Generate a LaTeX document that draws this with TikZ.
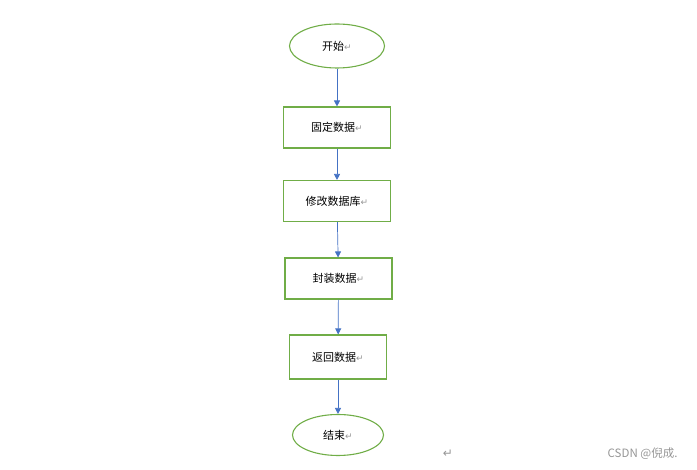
\documentclass[tikz,border=0pt]{standalone}
\usepackage{fontspec}
\setmainfont{Noto Sans CJK SC}
\newfontfamily\symfont{DejaVu Sans}
\usetikzlibrary{shapes.geometric,arrows.meta}
\definecolor{kotakhijau}{RGB}{112,173,71}
\definecolor{panahbiru}{RGB}{68,114,196}
\definecolor{tandaabu}{RGB}{150,150,150}
\newcommand{\enter}{{\symfont\color{tandaabu}\fontsize{9}{10}\selectfont ↵}}
\begin{document}
\begin{tikzpicture}[x=1pt,y=-1pt]
    % piksel gambar acuan, sumbu y dibalik
    \tikzset{
      ujung/.style={draw=kotakhijau,line width=1.1pt,ellipse,inner sep=0pt,
        minimum width=95pt,minimum height=44pt,font=\fontsize{11}{13}\selectfont},
      langkah/.style={draw=kotakhijau,line width=1.1pt,rectangle,inner sep=0pt,
        minimum width=107pt,minimum height=41pt,font=\fontsize{11}{13}\selectfont},
      panah/.style={draw=panahbiru,line width=0.7pt,
        -{Triangle[width=6pt,length=6pt]}}}
    \useasboundingbox (0,0) rectangle (697,470);
    % urutan langkah dari atas ke bawah
    \node[ujung] (mulai) at (337,46) {开始\enter};
    \node[langkah] (s1) at (337,127.5) {固定数据\enter};
    \node[langkah] (s2) at (337,201) {修改数据库\enter};
    \node[langkah] (s3) at (338.5,278.5) {封装数据\enter};
    \node[langkah,minimum width=97pt,minimum height=44pt] (s4) at (338,357) {返回数据\enter};
    \node[ujung,minimum width=91pt,minimum height=41pt] (selesai) at (338,435) {结束\enter};
    \draw[panah] (mulai) -- (s1);
    \draw[panah] (s1) -- (s2);
    \draw[panah] (s2) -- (s3);
    \draw[panah] (s3) -- (s4);
    \draw[panah] (s4) -- (selesai);
    % tanda di pojok bawah
    \node[font=\symfont\fontsize{12}{14}\selectfont,text=tandaabu] (tanda) at (448,454) {↵};
    \node[anchor=east,font=\fontsize{11.5}{13}\selectfont,text=tandaabu] (cap) at (681,454) {CSDN @倪成.};
\end{tikzpicture}
\end{document}
